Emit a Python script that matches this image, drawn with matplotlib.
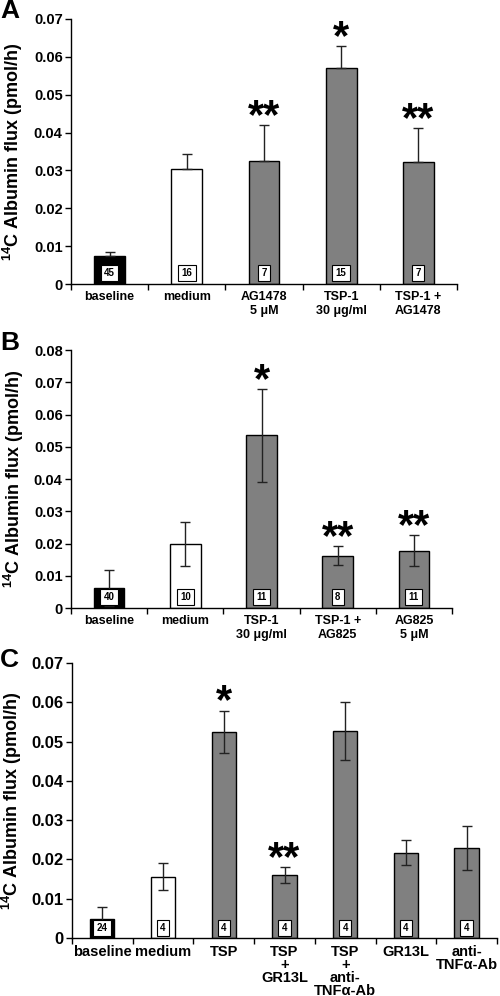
import matplotlib
matplotlib.use("Agg")
import matplotlib.pyplot as plt
from matplotlib.ticker import FixedLocator, NullFormatter

plt.rcParams['font.family'] = ['Liberation Sans', 'DejaVu Sans']
plt.rcParams['font.weight'] = 'bold'
plt.rcParams['mathtext.fontset'] = 'custom'
plt.rcParams['mathtext.rm'] = 'Liberation Sans:bold'
plt.rcParams['mathtext.bf'] = 'Liberation Sans:bold'

# ---------------- data ----------------
a_labels = ["baseline", "medium", "AG1478\n5 \u03bcM", "TSP-1\n30 \u03bcg/ml", "TSP-1 +\nAG1478"]
a_values = [0.0075, 0.0304, 0.0326, 0.0571, 0.0322]
a_err_up = [0.0009, 0.0039, 0.0094, 0.0057, 0.0089]
a_n = ["45", "16", "7", "15", "7"]
a_stars = ["", "", "**", "*", "**"]

b_labels = ["baseline", "medium", "TSP-1\n30 \u03bcg/ml", "TSP-1 +\nAG825", "AG825\n5 \u03bcM"]
b_values = [0.0062, 0.0199, 0.0535, 0.0162, 0.0178]
b_err = [0.0057, 0.0068, 0.0144, 0.0029, 0.0049]
b_n = ["40", "10", "11", "8", "11"]
b_stars = ["", "", "*", "**", "**"]

c_labels = ["baseline", "medium", "TSP", "TSP\n+\nGR13L", "TSP\n+\nanti-\nTNF\u03b1-Ab", "GR13L", "anti-\nTNF\u03b1-Ab"]
c_values = [0.0049, 0.0156, 0.0525, 0.0160, 0.0527, 0.0217, 0.0229]
c_err = [0.0029, 0.0034, 0.0054, 0.0021, 0.0074, 0.0032, 0.0057]
c_n = ["24", "4", "4", "4", "4", "4", "4"]
c_stars = ["", "", "*", "**", "", "", ""]

a_ticks = [0, 0.01, 0.02, 0.03, 0.04, 0.05, 0.06, 0.07]
b_ticks = [0, 0.01, 0.02, 0.03, 0.04, 0.05, 0.06, 0.07, 0.08]
c_ticks = [0, 0.01, 0.02, 0.03, 0.04, 0.05, 0.06, 0.07]

GREY = "#808080"

W, H = 500, 996
fig = plt.figure(figsize=(W / 100, H / 100), dpi=100)


def px_axes(left, right, top, bottom):
    return fig.add_axes([left / W, 1 - bottom / H, (right - left) / W, (bottom - top) / H])


def panel(ax, labels, values, err, nlist, stars, yticks, upper_only=False,
          ylab_x=-0.119, tick_fs=10.5, lab_fs=9, ylab_fs=13, box_off=11, lsp=1.2):
    n = len(values)
    xs = [i + 0.5 for i in range(n)]
    colors = ["black", "white"] + [GREY] * (n - 2)
    ax.bar(xs, values, width=0.4, color=colors, edgecolor="black", linewidth=1.0, zorder=2)
    if upper_only:
        yerr = [[0] * n, err]
    else:
        yerr = err
    ax.errorbar(xs, values, yerr=yerr, fmt="none", ecolor="#222222", elinewidth=1.0,
                capsize=3.5, capthick=1.0, zorder=3)
    ax.set_xlim(0, n)
    ax.set_ylim(0, yticks[-1])
    ax.set_yticks(yticks)
    ax.set_yticklabels(["0" if t == 0 else f"{t:.2f}" for t in yticks], fontsize=tick_fs,
                       fontweight="bold")
    ax.xaxis.set_major_locator(FixedLocator(list(range(n + 1))))
    ax.xaxis.set_major_formatter(NullFormatter())
    ax.xaxis.set_minor_locator(FixedLocator(xs))
    ax.set_xticklabels(labels, minor=True, fontsize=lab_fs, fontweight="bold", linespacing=lsp)
    ax.tick_params(axis="x", which="major", direction="out", length=4, width=1)
    ax.tick_params(axis="x", which="minor", length=0, pad=5)
    ax.tick_params(axis="y", direction="out", length=4, width=1, pad=2)
    for s in ["top", "right"]:
        ax.spines[s].set_visible(False)
    for s in ["left", "bottom"]:
        ax.spines[s].set_linewidth(1.0)
    ax.set_ylabel("$^{14}$C Albumin flux (pmol/h)", fontsize=ylab_fs, fontweight="bold")
    ax.yaxis.set_label_coords(ylab_x, 0.5)
    for x, lab in zip(xs, nlist):
        ax.annotate(lab, xy=(x, 0), xycoords="data", xytext=(0, box_off),
                    textcoords="offset pixels", ha="center", va="center",
                    fontsize=7, fontweight="bold", zorder=5,
                    bbox=dict(boxstyle="square,pad=0.35", fc="white", ec="black", lw=0.8))
    for x, v, e, st in zip(xs, values, err, stars):
        if st:
            ax.annotate(st, xy=(x, v + e), xycoords="data", xytext=(0, -3),
                        textcoords="offset pixels", ha="center", va="baseline",
                        fontsize=30, fontweight="bold", zorder=5)
    return ax


axA = px_axes(71, 457, 19, 284)
panel(axA, a_labels, a_values, a_err_up, a_n, a_stars, a_ticks, upper_only=True)
axB = px_axes(71, 452, 350, 608)
panel(axB, b_labels, b_values, b_err, b_n, b_stars, b_ticks)
axC = px_axes(72, 497, 663, 938)
panel(axC, c_labels, c_values, c_err, c_n, c_stars, c_ticks, ylab_x=-0.112,
      tick_fs=12, lab_fs=10.5, box_off=10, lsp=0.9)

fig.text(0 / W, 1 - 11 / H, "A", fontsize=19, fontweight="bold", va="center", ha="left")
fig.text(0 / W, 1 - 343 / H, "B", fontsize=19, fontweight="bold", va="center", ha="left")
fig.text(0 / W, 1 - 660 / H, "C", fontsize=19, fontweight="bold", va="center", ha="left")

fig.savefig("out.png", dpi=100)
